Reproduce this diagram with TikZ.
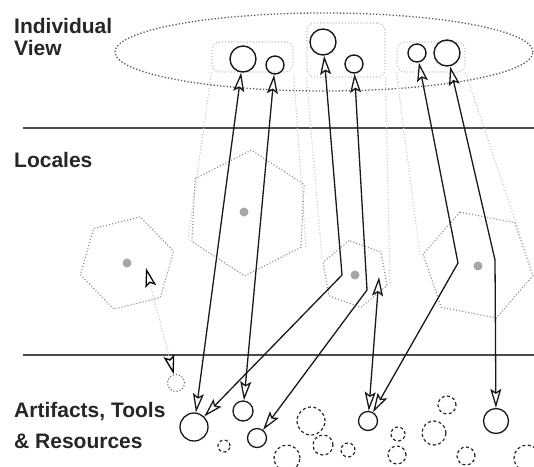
\documentclass[tikz,border=0pt]{standalone}
\usepackage{fontspec}
\setmainfont{Liberation Sans}
\usetikzlibrary{arrows.meta,shapes.geometric,calc}

\begin{document}
\begin{tikzpicture}[x=1pt,y=-1pt,
  >={Stealth[open,length=19pt,width=11pt,inset=3.5pt]},
  label/.style={font=\fontsize{21}{25}\selectfont\bfseries, text=black!85, anchor=base west, inner sep=0pt},
  rule/.style={draw=black!70, line width=1.4pt},
  viewring/.style={ellipse, draw=black!65, line width=1.3pt, dotted, inner sep=0pt},
  group/.style={rectangle, draw=black!25, line width=1.1pt, dotted, rounded corners=8pt, inner sep=0pt},
  ghost/.style={draw=black!22, line width=1.1pt, dotted},
  locale/.style={regular polygon, regular polygon sides=6, draw=black!45, line width=1.1pt, dotted, inner sep=0pt, outer sep=0pt},
  hub/.style={circle, fill=black!35, minimum size=9pt, inner sep=0pt},
  person/.style={circle, draw=black!90, line width=1.4pt, inner sep=0pt},
  thing/.style={circle, draw=black!90, line width=1.3pt, inner sep=0pt},
  spare/.style={circle, draw=black!85, line width=1.2pt, dash pattern=on 3pt off 2.5pt, inner sep=0pt},
  faded/.style={circle, draw=black!60, line width=1.1pt, dotted, inner sep=0pt},
  link/.style={draw=black!90, line width=1.3pt, <->},
]
\useasboundingbox (0,0) rectangle (534,466);

% layer titles
\node[label] (tIndiv) at (14,33) {Individual};
\node[label] (tView) at (14,55) {View};
\node[label] (tLoc) at (14,167) {Locales};
\node[label] (tArt) at (14,417) {Artifacts, Tools};
\node[label] (tRes) at (14,448) {\& Resources};

% layer separators
\coordinate (ruleAw) at (23,128); \coordinate (ruleAe) at (534,128);
\coordinate (ruleBw) at (23,355); \coordinate (ruleBe) at (534,355);
\draw[rule] (ruleAw) -- (ruleAe);
\draw[rule] (ruleBw) -- (ruleBe);

% locales
\node[locale, minimum size=96pt, rotate=14] (hexA) at (127,263) {};
\node[locale, minimum size=126pt, rotate=27] (hexB) at (248,213) {};
\node[locale, minimum size=68pt, rotate=40] (hexC) at (355,274) {};
\node[locale, minimum size=112pt, rotate=49] (hexD) at (478,265) {};
\node[hub] (hubA) at (127,263) {};
\node[hub] (hubB) at (244,212) {};
\node[hub] (hubC) at (355,275) {};
\node[hub] (hubD) at (478,266) {};

% individual view and its groups
\node[viewring, minimum width=418pt, minimum height=78pt] (view) at (324,52) {};
\node[group, minimum width=81pt, minimum height=30pt] (grpA) at (252.5,57) {};
\node[group, minimum width=78pt, minimum height=54pt] (grpB) at (346,50) {};
\node[group, minimum width=68pt, minimum height=30pt] (grpC) at (431,57) {};

% groups projected onto their locales
\coordinate (pA1) at (188,240); \coordinate (pA2) at (306,247);
\coordinate (pB1) at (322,258); \coordinate (pB2) at (390,283);
\coordinate (pC1) at (420,255); \coordinate (pC2) at (530,265);
\draw[ghost] (grpA.south west) -- (pA1);
\draw[ghost] (grpA.south east) -- (pA2);
\draw[ghost] (grpB.south west) -- (pB1);
\draw[ghost] (grpB.south east) -- (pB2);
\draw[ghost] (grpC.south west) -- (pC1);
\draw[ghost] (grpC.south east) -- (pC2);

% people
\node[person, minimum size=26pt] (c1) at (243,59) {};
\node[person, minimum size=18pt] (c2) at (275,65) {};
\node[person, minimum size=26pt] (c3) at (323,42) {};
\node[person, minimum size=18pt] (c4) at (354,64) {};
\node[person, minimum size=18pt] (c5) at (417,53) {};
\node[person, minimum size=26pt] (c6) at (447,53) {};

% artifacts in use
\node[thing, minimum size=28pt] (b1) at (194,427) {};
\node[thing, minimum size=20pt] (b2) at (243,411) {};
\node[thing, minimum size=19pt] (b3) at (257,438) {};
\node[thing, minimum size=19pt] (b4) at (368,421) {};
\node[thing, minimum size=25pt] (b5) at (496,421) {};

% artifacts not in use
\node[spare, minimum size=12pt] (s1) at (224,446) {};
\node[spare, minimum size=28pt] (s2) at (311,421) {};
\node[spare, minimum size=20pt] (s3) at (323,445) {};
\node[spare, minimum size=26pt] (s4) at (287,458) {};
\node[spare, minimum size=14pt] (s5) at (348,450) {};
\node[spare, minimum size=14pt] (s6) at (398,434) {};
\node[spare, minimum size=18pt] (s7) at (397,455) {};
\node[spare, minimum size=24pt] (s8) at (434,433) {};
\node[spare, minimum size=18pt] (s9) at (447,405) {};
\node[spare, minimum size=18pt] (s10) at (466,456) {};
\node[spare, minimum size=26pt] (s11) at (527,458) {};
\node[faded, minimum size=17pt] (d0) at (176,383) {};

% routes through the locales
\coordinate (k3) at (342,275);
\coordinate (k4) at (367,290);
\coordinate (k5) at (379,277);
\coordinate (k6) at (458,263);
\coordinate (k7) at (495,260);
\coordinate (kA) at (146,268);

\draw[link] (b1) -- (c1);
\draw[link] (b2) -- (c2);
\draw[link] (b1) -- (k3) -- (c3);
\draw[link] (b3) -- (k4) -- (c4);
\draw[link] (b4) -- (k5);
\draw[link] (b4) -- (k6) -- (c5);
\draw[link] (b5) -- (k7) -- (c6);
\draw[ghost, {Stealth[open,length=19pt,width=11pt,inset=3.5pt,color=black,line width=1.3pt]}-{Stealth[open,length=19pt,width=11pt,inset=3.5pt,color=black,line width=1.3pt]}] (kA) -- (d0);
\end{tikzpicture}
\end{document}
